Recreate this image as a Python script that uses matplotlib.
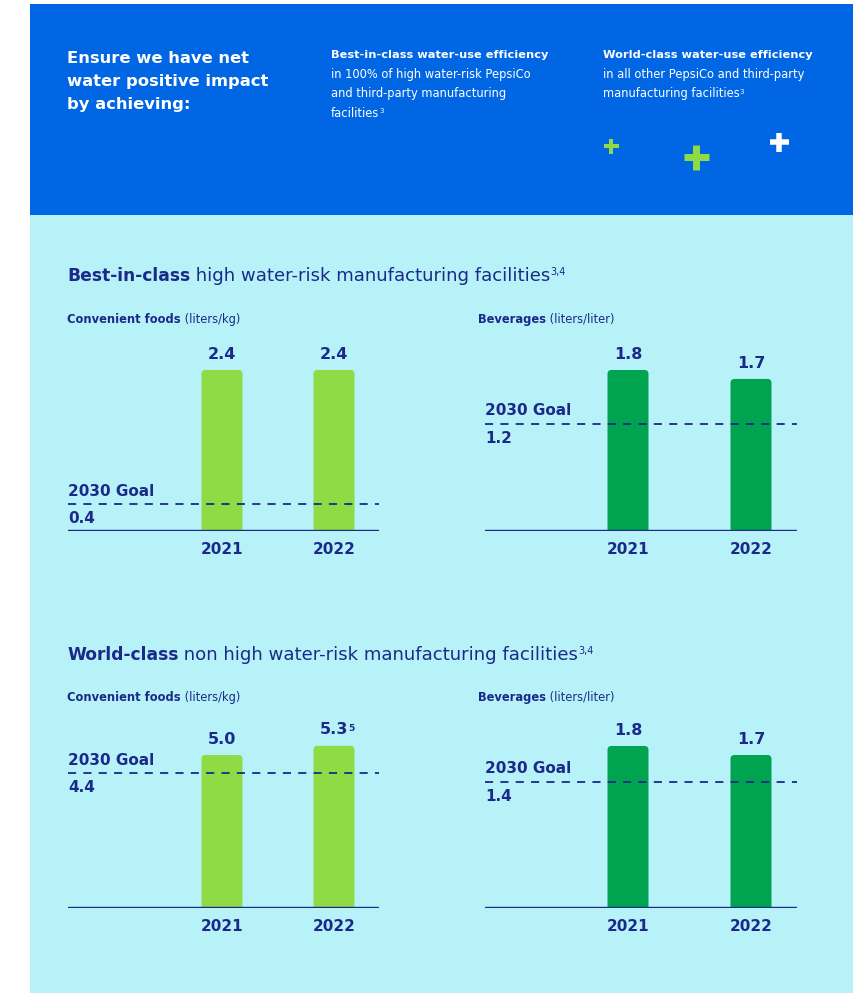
import matplotlib
matplotlib.use("Agg")
import matplotlib.pyplot as plt
from matplotlib.patches import Rectangle, FancyBboxPatch

# ---------------- data ----------------
years = ["2021", "2022"]
hr_foods = [2.4, 2.4]
hr_foods_goal = 0.4
hr_bev = [1.8, 1.7]
hr_bev_goal = 1.2
nhr_foods = [5.0, 5.3]
nhr_foods_goal = 4.4
nhr_bev = [1.8, 1.7]
nhr_bev_goal = 1.4
value_notes_nhr_foods = ["", "5"]

# ---------------- style ----------------
W, H = 861, 993
BLUE = "#0066E4"
CYAN = "#B7F2F9"
NAVY = "#1B2A8A"
LGREEN = "#8EDB45"
DGREEN = "#00A450"
FONT = ["DejaVu Sans"]

fig = plt.figure(figsize=(W / 100, H / 100), dpi=100)
fig.patch.set_facecolor("white")


def fx(px):
    return px / W


def fy(py):
    return 1 - py / H


fig.patches.append(Rectangle((fx(30), fy(215)), fx(853) - fx(30), fy(4) - fy(215),
                             transform=fig.transFigure, facecolor=BLUE, edgecolor="none", zorder=0))
fig.patches.append(Rectangle((fx(30), fy(993)), fx(853) - fx(30), fy(215) - fy(993),
                             transform=fig.transFigure, facecolor=CYAN, edgecolor="none", zorder=0))

renderer = fig.canvas.get_renderer()


def runs(x, y, parts, color):
    """parts: list of (text, weight, size, dy)"""
    for text, weight, size, dy in parts:
        t = fig.text(fx(x), fy(y + dy), text, fontsize=size, fontweight=weight,
                     color=color, va="baseline", ha="left", family=FONT)
        bb = t.get_window_extent(renderer)
        x += bb.width


# ---------------- header ----------------
for i, line in enumerate(["Ensure we have net", "water positive impact", "by achieving:"]):
    fig.text(fx(67), fy(63 + 23 * i), line, fontsize=11.8, fontweight="bold",
             color="white", va="baseline", family=FONT)

fig.text(fx(331), fy(58), "Best-in-class water-use efficiency", fontsize=8.2,
         fontweight="bold", color="white", va="baseline", family=FONT)
for i, line in enumerate(["in 100% of high water-risk PepsiCo", "and third-party manufacturing"]):
    fig.text(fx(331), fy(78 + 19.5 * i), line, fontsize=8.3, color="white",
             va="baseline", family=FONT)
runs(331, 117, [("facilities", "normal", 8.3, 0), ("3", "normal", 5, -4)], "white")

fig.text(fx(603), fy(58), "World-class water-use efficiency", fontsize=8.2,
         fontweight="bold", color="white", va="baseline", family=FONT)
fig.text(fx(603), fy(78), "in all other PepsiCo and third-party", fontsize=8.3,
         color="white", va="baseline", family=FONT)
runs(603, 97.5, [("manufacturing facilities", "normal", 8.3, 0), ("3", "normal", 5, -4)], "white")

# plus signs
ov = fig.add_axes([0, 0, 1, 1], zorder=1)
ov.set_xlim(0, W)
ov.set_ylim(H, 0)
ov.axis("off")
for (cx, cy, size, thick, col) in [(611, 146, 15, 4, LGREEN), (696, 157, 25, 7, LGREEN),
                                   (779, 142, 19, 5.5, "white")]:
    ov.plot([cx - size / 2, cx + size / 2], [cy, cy], color=col, lw=thick * 0.72,
            solid_capstyle="butt")
    ov.plot([cx, cx], [cy - size / 2, cy + size / 2], color=col, lw=thick * 0.72,
            solid_capstyle="butt")

# ---------------- section titles ----------------
runs(67, 281, [("Best-in-class", "bold", 12.3, 0),
               (" high water-risk manufacturing facilities", "normal", 13.1, 0),
               ("3,4", "normal", 7, -6)], NAVY)
runs(67, 660, [("World-class", "bold", 12.3, 0),
               (" non high water-risk manufacturing facilities", "normal", 13.1, 0),
               ("3,4", "normal", 7, -6)], NAVY)
for (x, y, bold, reg) in [(67, 323, "Convenient foods", " (liters/kg)"),
                          (478, 323, "Beverages", " (liters/liter)"),
                          (67, 701, "Convenient foods", " (liters/kg)"),
                          (478, 701, "Beverages", " (liters/liter)")]:
    runs(x, y, [(bold, "bold", 8.3, 0), (reg, "normal", 8.3, 0)], NAVY)


# ---------------- charts ----------------
def chart(left, right, base, centers, values, goal, color, scale, notes=None):
    top = base - 190
    ax = fig.add_axes([fx(left), fy(base), fx(right) - fx(left), fy(top) - fy(base)], zorder=2)
    ax.set_facecolor("none")
    pxu = centers[1] - centers[0]
    ax.set_xlim((left - centers[0]) / pxu, (right - centers[0]) / pxu)
    ax.set_ylim(0, 190 / scale)
    xs = list(range(len(values)))
    bars = ax.bar(xs, values, width=41 / pxu, color=color, zorder=2)
    # rounded-corner versions of the bars
    r_px = 4.0
    for b in bars:
        b.set_visible(False)
        x0, w, h = b.get_x(), b.get_width(), b.get_height()
        ext = r_px / scale
        p = FancyBboxPatch((x0, -ext), w, h + ext,
                           boxstyle=f"round,pad=0,rounding_size={r_px / pxu}",
                           mutation_aspect=pxu / scale, facecolor=color,
                           edgecolor="none", zorder=2)
        ax.add_patch(p)
    ax.axhline(0, color=NAVY, lw=1.7, zorder=3)
    ax.axhline(goal, color=NAVY, lw=1.3, dashes=(4.5, 4), zorder=3)
    for spine in ax.spines.values():
        spine.set_visible(False)
    ax.set_yticks([])
    ax.set_xticks(xs)
    ax.set_xticklabels(years, fontsize=11, fontweight="bold", color=NAVY, family=FONT)
    ax.tick_params(axis="x", length=0, pad=8)
    for i, v in enumerate(values):
        ax.annotate(f"{v:.1f}", xy=(i, v), xytext=(0, 6), textcoords="offset points",
                    ha="center", va="bottom", fontsize=11.5, fontweight="bold", color=NAVY,
                    family=FONT)
        if notes and notes[i]:
            ax.annotate(notes[i], xy=(i, v), xytext=(10, 16), textcoords="offset points",
                        ha="left", va="top", fontsize=6.5, fontweight="bold", color=NAVY,
                        family=FONT)
    ax.annotate("2030 Goal", xy=(0, goal), xycoords=("axes fraction", "data"),
                xytext=(0, 4), textcoords="offset points", ha="left", va="bottom",
                fontsize=11, fontweight="bold", color=NAVY, family=FONT)
    ax.annotate(f"{goal:.1f}", xy=(0, goal), xycoords=("axes fraction", "data"),
                xytext=(0, -5), textcoords="offset points", ha="left", va="top",
                fontsize=11, fontweight="bold", color=NAVY, family=FONT)
    return ax


chart(68, 379, 531, (222, 334), hr_foods, hr_foods_goal, LGREEN, 161 / 2.4)
chart(485, 797, 531, (628, 751), hr_bev, hr_bev_goal, DGREEN, 161 / 1.8)
chart(68, 379, 908, (222, 334), nhr_foods, nhr_foods_goal, LGREEN, 153 / 5.0,
      notes=value_notes_nhr_foods)
chart(485, 797, 908, (628, 751), nhr_bev, nhr_bev_goal, DGREEN, 162 / 1.8)

fig.savefig("out.png", dpi=100, facecolor=fig.get_facecolor())
